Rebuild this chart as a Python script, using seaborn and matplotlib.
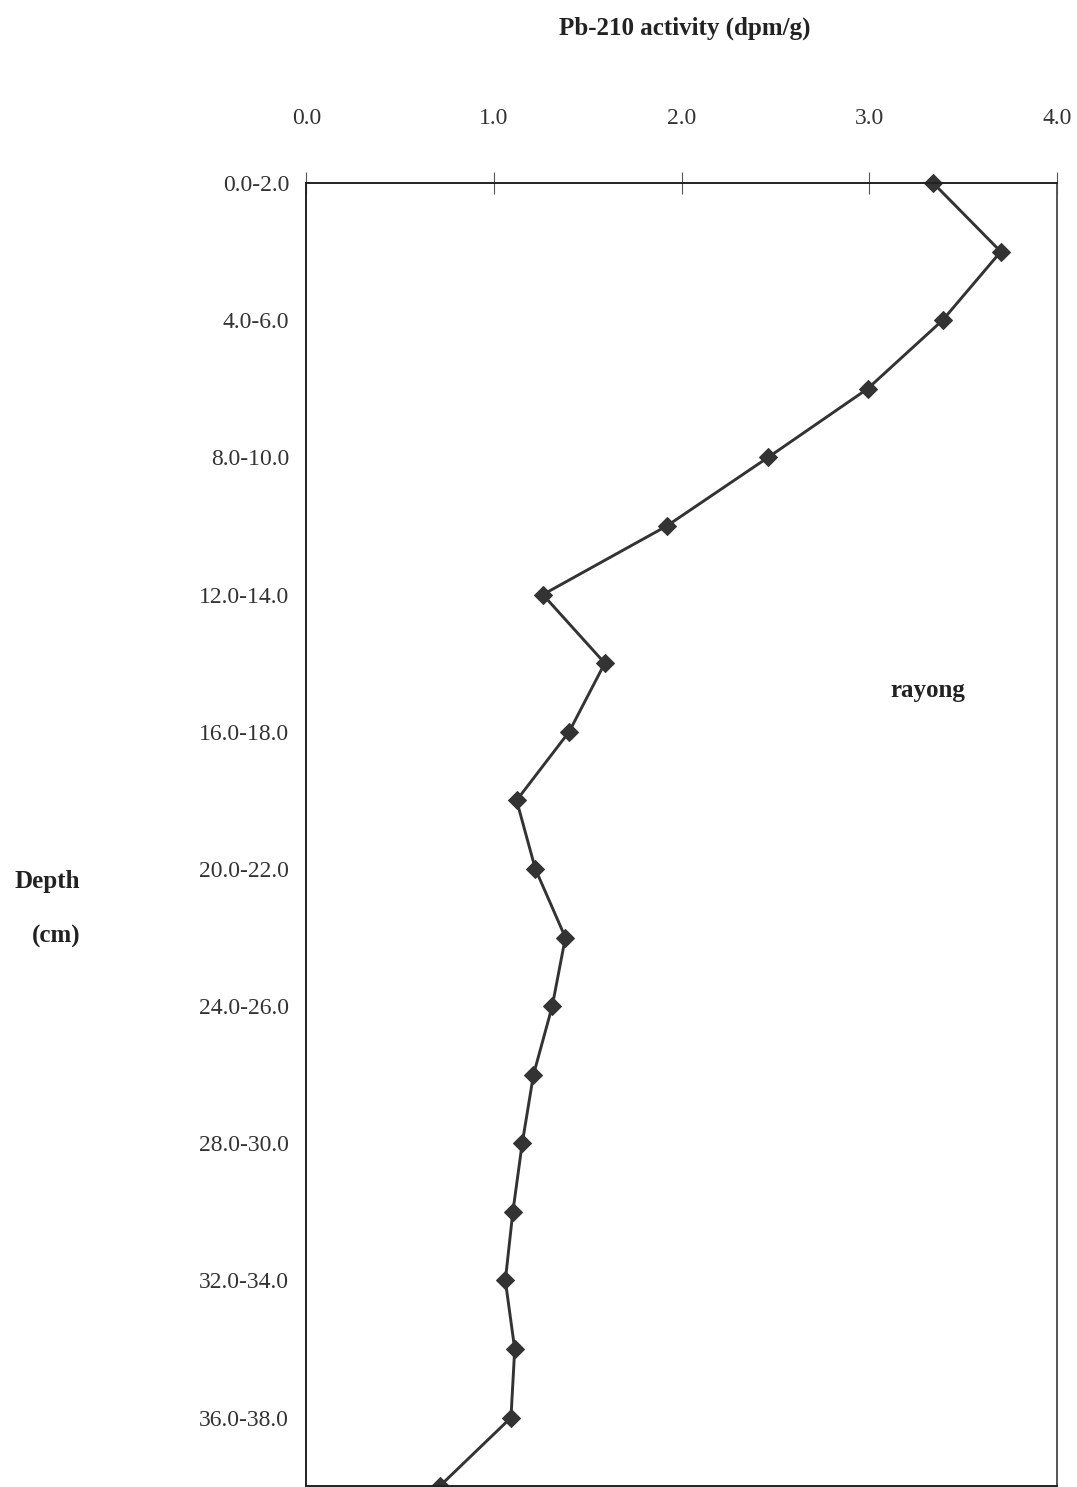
import numpy as np
import pandas as pd
import seaborn as sns
import matplotlib.pyplot as plt

# depth intervals (cm) and Pb-210 activity (dpm/g)
depth_top = [0, 2, 4, 6, 8, 10, 12, 14, 16, 18, 20, 22, 24, 26, 28, 30, 32, 34, 36, 38]
activity = [3.34, 3.70, 3.39, 2.99, 2.46, 1.92, 1.26, 1.59, 1.40, 1.12,
            1.22, 1.38, 1.31, 1.21, 1.15, 1.10, 1.06, 1.11, 1.09, 0.71]
x_ticks = [0.0, 1.0, 2.0, 3.0, 4.0]

depth_labels = ['%.1f-%.1f' % (d, d + 2) for d in depth_top]
df = pd.DataFrame({'depth': depth_top, 'activity': activity})

sns.set_style('white')
plt.rcParams['font.family'] = ['Liberation Serif', 'DejaVu Serif']

fig = plt.figure(figsize=(10.77, 14.87), dpi=100)
ax = fig.add_axes([0.2845, 0.0005, 0.6970, 0.8764])

sns.lineplot(data=df, x='activity', y='depth', sort=False, orient='y',
             color='#333333', linewidth=2.1, marker='D', markersize=9,
             markeredgecolor='#333333', markerfacecolor='#333333', ax=ax,
             clip_on=False)

ax.set_xlim(0, 4.0)
ax.set_ylim(depth_top[-1], depth_top[0])
ax.xaxis.tick_top()
ax.set_xticks(x_ticks)
ax.set_xticklabels(['%.1f' % v for v in x_ticks], fontsize=17, color='#333333')
ax.tick_params(axis='x', direction='inout', length=16, width=0.8, color='#555555', pad=31)

ax.set_yticks(depth_top)
ax.set_yticklabels([lab if i % 2 == 0 else '' for i, lab in enumerate(depth_labels)],
                   fontsize=17, color='#333333')
ax.tick_params(axis='y', direction='inout', length=17, width=0.9, color='#444444', pad=4)

for side in ['top', 'left', 'bottom', 'right']:
    ax.spines[side].set_visible(True)
    ax.spines[side].set_color('#222222')
    ax.spines[side].set_linewidth(1.4)
ax.spines['right'].set_color('#555555')

ax.set_xlabel('')
ax.set_ylabel('')

fig.text(0.636, 0.981, 'Pb-210 activity (dpm/g)', ha='center', va='center',
         fontsize=18, fontweight='bold', color='#222222')
fig.text(0.044, 0.407, 'Depth', ha='center', va='center',
         fontsize=18, fontweight='bold', color='#222222')
fig.text(0.052, 0.370, '(cm)', ha='center', va='center',
         fontsize=18, fontweight='bold', color='#222222')
ax.text(3.31, 14.8, 'rayong', ha='center', va='center',
        fontsize=18, fontweight='bold', color='#222222')

fig.savefig('out.png', dpi=100, facecolor='white')
